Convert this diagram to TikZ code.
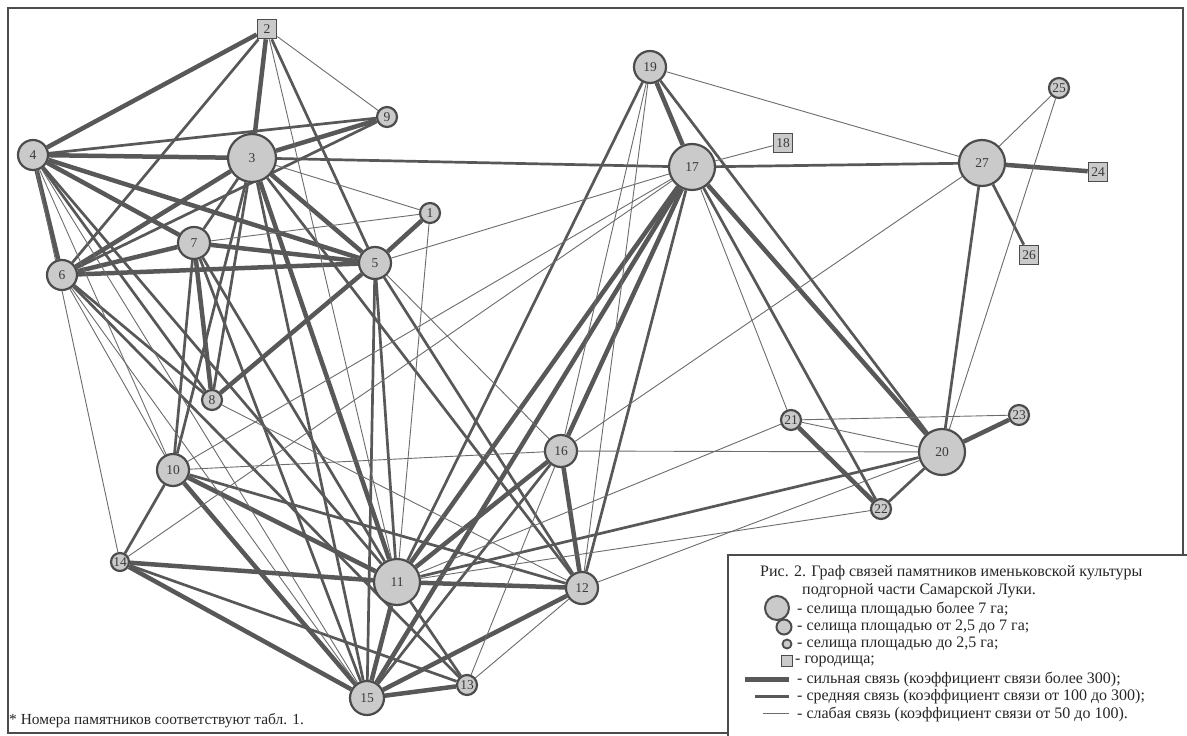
\documentclass[tikz,border=0pt]{standalone}
\usepackage{fontspec}
\setmainfont{Liberation Serif}
\usetikzlibrary{backgrounds}
\definecolor{edgecol}{HTML}{585858}
\definecolor{thincol}{HTML}{6C6C6C}
\definecolor{nodefill}{HTML}{CACACA}
\definecolor{nodeline}{HTML}{4C4C4C}
\definecolor{labcol}{HTML}{3A3A3A}
\tikzset{
  x=1pt,y=-1pt,
  site/.style={circle,draw=nodeline,line width=2.2pt,fill=nodefill,inner sep=0pt,text=labcol,font=\fontsize{13.5}{13.5}\selectfont},
  big/.style={site,minimum size=46pt},
  med/.style={site,minimum size=32pt},
  sml/.style={site,minimum size=20pt},
  fort/.style={rectangle,draw=nodeline,line width=1.6pt,fill=nodefill,inner sep=0pt,minimum size=19pt,text=labcol,font=\fontsize{13.5}{13.5}\selectfont},
  strong/.style={draw=edgecol,line width=4.5pt},
  middle/.style={draw=edgecol,line width=2.7pt},
  weak/.style={draw=thincol,line width=0.9pt},
  legtext/.style={anchor=west,inner sep=0pt,font=\fontsize{16}{16}\selectfont,text=black!85},
}
\begin{document}
\begin{tikzpicture}
\useasboundingbox (0,0) rectangle (1187,736);
% nodes
\node[fort] (n2) at (267,29) {2};
\node[sml] (n9) at (387,117) {9};
\node[med,minimum size=30pt] (n4) at (33,155) {4};
\node[big,minimum size=48pt] (n3) at (252,158) {3};
\node[sml] (n1) at (430,213) {1};
\node[med] (n7) at (194,243) {7};
\node[med,minimum size=30pt] (n6) at (62,275) {6};
\node[med] (n5) at (375,263) {5};
\node[sml] (n8) at (212,400) {8};
\node[med] (n10) at (173,470) {10};
\node[sml,minimum size=18pt] (n14) at (120,562) {14};
\node[big] (n11) at (397,582) {11};
\node[med,minimum size=34pt] (n15) at (367,698) {15};
\node[sml] (n13) at (467,685) {13};
\node[med] (n12) at (582,588) {12};
\node[med] (n16) at (561,451) {16};
\node[med] (n19) at (650,67) {19};
\node[big] (n17) at (692,167) {17};
\node[fort] (n18) at (783,143) {18};
\node[big] (n27) at (982,163) {27};
\node[sml] (n25) at (1059,88) {25};
\node[fort] (n24) at (1098,172) {24};
\node[fort] (n26) at (1029,255) {26};
\node[sml] (n21) at (791,420) {21};
\node[big] (n20) at (942,452) {20};
\node[sml] (n22) at (881,509) {22};
\node[sml] (n23) at (1019,415) {23};
\begin{scope}[on background layer]
\fill[white] (0,0) rectangle (1187,736);
\draw[line width=1.2pt,black!70] (8,8) rectangle (1183,733);
\foreach \a/\b in {2/4,2/3,9/3,4/3,4/7,4/5,4/6,3/6,3/5,3/11,7/6,7/5,7/8,6/5,5/1,5/8,10/11,10/15,14/11,14/15,11/15,11/12,11/16,11/17,15/12,15/13,15/17,12/16,16/17,17/19,17/20,27/24,21/22,20/23}
  \draw[strong] (n\a) -- (n\b);
\foreach \a/\b in {2/6,2/5,9/4,9/6,4/8,4/11,3/17,3/7,3/8,3/10,3/15,3/12,7/10,7/15,7/11,6/8,6/13,5/11,5/15,5/12,10/14,10/12,14/13,11/13,11/19,11/20,15/16,12/17,17/27,17/22,19/20,27/26,27/20,20/22}
  \draw[middle] (n\a) -- (n\b);
\foreach \a/\b in {2/9,2/11,4/10,4/15,4/14,3/1,7/1,6/10,6/15,5/17,5/16,1/11,10/16,10/17,14/17,11/21,11/22,12/19,12/20,13/12,13/16,16/19,16/20,16/27,17/18,17/21,19/27,27/25,25/20,21/23,21/20,8/12}
  \draw[weak] (n\a) -- (n\b);
\end{scope}
% legend
\draw[line width=1.4pt,black!70,fill=white] (728,555) rectangle (1190,740);
\node[legtext] (t1) at (760,573) {Рис. 2. Граф связей памятников именьковской культуры};
\node[legtext] (t2) at (802,591) {подгорной части Самарской Луки.};
\node[site,minimum size=24pt,line width=2pt] (l1) at (777,608) {};
\node[site,minimum size=15pt,line width=2pt] (l2) at (784,627) {};
\node[site,minimum size=9pt,line width=1.8pt] (l3) at (787,644) {};
\node[fort,minimum size=11pt,line width=1.6pt] (l4) at (787,661) {};
\coordinate (a1) at (745,679); \coordinate (b1) at (789,679);
\coordinate (a2) at (755,696); \coordinate (b2) at (789,696);
\coordinate (a3) at (763,713); \coordinate (b3) at (789,713);
\draw[strong,line width=5pt] (a1) -- (b1);
\draw[middle,line width=3pt] (a2) -- (b2);
\draw[weak] (a3) -- (b3);
\node[legtext] (s1) at (797,609) {- селища площадью более 7 га;};
\node[legtext] (s2) at (797,627) {- селища площадью от 2,5 до 7 га;};
\node[legtext] (s3) at (797,644) {- селища площадью до 2,5 га;};
\node[legtext] (s4) at (795,661) {- городища;};
\node[legtext] (s5) at (797,679) {- сильная связь (коэффициент связи более 300);};
\node[legtext] (s6) at (797,697) {- средняя связь (коэффициент связи от 100 до 300);};
\node[legtext] (s7) at (797,714) {- слабая связь (коэффициент связи от 50 до 100).};
\node[legtext,font=\fontsize{15.4}{15.4}\selectfont] (foot) at (9,721) {* Номера памятников соответствуют табл. 1.};
\end{tikzpicture}
\end{document}
